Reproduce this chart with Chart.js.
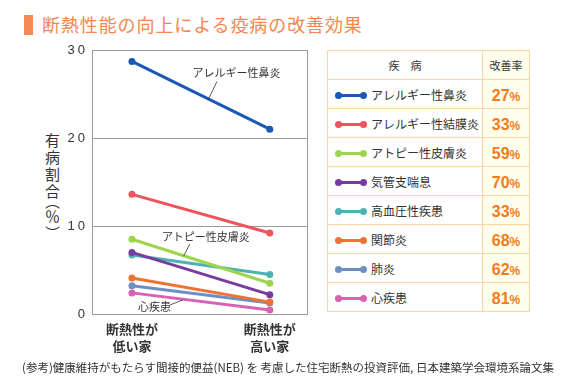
<!DOCTYPE html>
<html>
<head>
<meta charset="utf-8">
<script src="https://cdn.jsdelivr.net/npm/chart.js@4"></script>
<style>
  body { margin: 0; width: 576px; height: 387px; background: #fff; position: relative; overflow: hidden;
         font-family: "Noto Sans CJK JP", sans-serif; color: #333; }
  #title { position: absolute; left: 24px; top: 11px; font-size: 18px; color: #f3874d; white-space: nowrap; letter-spacing: 0.9px; }
  #title .bar { display: inline-block; width: 9px; height: 20px; background: #f58a52; vertical-align: -3px; margin-right: 9px; }
  #ytitle { position: absolute; left: 42px; top: 133px; writing-mode: vertical-rl; font-size: 15px; letter-spacing: 2px; color: #333; }
  #ytitle .p { font-feature-settings: "vhal"; letter-spacing: 0; }
  #wrap { position: absolute; left: 0; top: 0; width: 320px; height: 387px; }
  #legend { position: absolute; left: 327px; top: 50px; width: 203px; border-collapse: collapse; }
  #legend td, #legend th { border: 1.5px solid #fad6a3; height: 28px; padding: 0; font-weight: normal; }
  #legend th { font-size: 11px; }
  #legend td.rate, #legend th.rate { background: #fffdeb; width: 46px; text-align: center; }
  #legend td.name { font-size: 12px; white-space: nowrap; padding-left: 9px; }
  .sw { display: inline-block; position: relative; width: 28px; height: 3px; vertical-align: middle; margin-right: 6px; top: -1px; }
  .sw::before, .sw::after { content: ""; position: absolute; top: -2px; width: 7px; height: 7px; border-radius: 50%; background: inherit; }
  .sw::before { left: -2px; } .sw::after { right: -2px; }
  .num { font-family: "Liberation Sans", Arial, sans-serif; font-weight: bold; color: #f37b1d; font-size: 16px; }
  .num small { font-size: 12px; }
  #note { position: absolute; left: 22px; top: 359px; font-size: 11.5px; color: #333; white-space: nowrap; }
</style>
</head>
<body>
<div id="title"><span class="bar"></span>断熱性能の向上による疫病の改善効果</div>
<div id="ytitle">有病割合<span class="p">（</span>％<span class="p">）</span></div>
<div id="wrap"><canvas id="chart"></canvas></div>
<table id="legend"></table>
<div id="note">(参考)健康維持がもたらす間接的便益(NEB) を 考慮した住宅断熱の投資評価, 日本建築学会環境系論文集</div>

<script>
const categories = ['アレルギー性鼻炎', 'アレルギー性結膜炎', 'アトピー性皮膚炎', '気管支喘息', '高血圧性疾患', '関節炎', '肺炎', '心疾患'];
const lowInsulation = [28.7, 13.6, 8.5, 7.0, 6.7, 4.1, 3.2, 2.4];
const highInsulation = [21.0, 9.2, 3.5, 2.2, 4.5, 1.35, 1.25, 0.45];
const improvement = [27, 33, 59, 70, 33, 68, 62, 81];
const colors = ['#1a58b3', '#ef535b', '#9fd44f', '#7a3b9f', '#4cb2b4', '#f07233', '#6f8fc2', '#d862b4'];
const xLabels = [['断熱性が', '低い家'], ['断熱性が', '高い家']];
const yTicks = [0, 10, 20, 30];

// callouts: text, text anchor (x,y), leader from -> to, in data units
const callouts = [
    { text: 'アレルギー性鼻炎', x: 0.44, y: 27.4, from: [0.616, 26.4], to: [0.551, 24.3] },
    { text: 'アトピー性皮膚炎', x: 0.217, y: 8.75, from: [0.42, 7.95], to: [0.375, 6.6] },
    { text: '心疾患', x: 0.043, y: 0.8, from: [0.275, 1.02], to: [0.37, 1.6] }
];

// legend table
const legend = document.getElementById('legend');
let rows = '<tr><th>疾　病</th><th class="rate">改善率</th></tr>';
categories.forEach((name, i) => {
    rows += `<tr><td class="name"><span class="sw" style="background:${colors[i]}"></span>${name}</td>` +
            `<td class="rate"><span class="num">${improvement[i]}<small>%</small></span></td></tr>`;
});
legend.innerHTML = rows;

const framePlugin = {
    id: 'frame',
    beforeDraw(chart) {
        const ys = chart.scales.y;
        if (!ys._spaced) {
            const orig = ys.drawLabels.bind(ys);
            ys.drawLabels = function (area) {
                const ctx = chart.ctx;
                ctx.save();
                ctx.letterSpacing = '3px';
                orig(area);
                ctx.restore();
            };
            ys._spaced = true;
        }
    },
    beforeDatasetsDraw(chart) {
        const { ctx, chartArea: a } = chart;
        ctx.save();
        ctx.strokeStyle = '#9a9a9a';
        ctx.lineWidth = 1;
        ctx.strokeRect(a.left + 0.5, a.top + 0.5, a.right - a.left, a.bottom - a.top);
        ctx.restore();
    },
    afterDatasetsDraw(chart) {
        const { ctx, scales: { x, y } } = chart;
        ctx.save();
        ctx.font = '11px "Noto Sans CJK JP"';
        ctx.fillStyle = '#333';
        ctx.strokeStyle = '#333';
        ctx.lineWidth = 0.8;
        ctx.textBaseline = 'middle';
        callouts.forEach(c => {
            ctx.fillText(c.text, x.getPixelForValue(c.x), y.getPixelForValue(c.y));
            ctx.beginPath();
            ctx.moveTo(x.getPixelForValue(c.from[0]), y.getPixelForValue(c.from[1]));
            ctx.lineTo(x.getPixelForValue(c.to[0]), y.getPixelForValue(c.to[1]));
            ctx.stroke();
        });
        ctx.restore();
    }
};

new Chart(document.getElementById('chart'), {
    type: 'line',
    data: {
        datasets: categories.map((name, i) => ({
            label: name,
            data: [{ x: 0, y: lowInsulation[i] }, { x: 1, y: highInsulation[i] }],
            borderColor: colors[i],
            backgroundColor: colors[i],
            borderWidth: 3,
            pointRadius: 3.5,
            pointBorderWidth: 0,
            pointBackgroundColor: colors[i]
        }))
    },
    options: {
        responsive: true,
        maintainAspectRatio: false,
        animation: false,
        layout: { padding: { left: 0, top: 50, right: 13, bottom: 0 } },
        plugins: { legend: { display: false }, tooltip: { enabled: false } },
        scales: {
            x: {
                type: 'linear',
                min: -0.29,
                max: 1.27,
                afterBuildTicks: s => { s.ticks = xLabels.map((l, i) => ({ value: i })); },
                afterFit: s => { s.height = 73; },
                grid: { display: false, drawTicks: false },
                border: { display: false },
                ticks: {
                    callback: (v, i) => xLabels[i],
                    color: '#333',
                    padding: 6,
                    maxRotation: 0,
                    font: { family: '"Noto Sans CJK JP"', size: 13, weight: 'bold', lineHeight: 1.35 }
                }
            },
            y: {
                min: 0,
                max: 30,
                afterBuildTicks: s => { s.ticks = yTicks.map(v => ({ value: v })); },
                afterFit: s => { s.width = 92; },
                grid: { color: '#9a9a9a', lineWidth: 1, drawTicks: false },
                border: { display: false },
                ticks: {
                    color: '#333',
                    padding: 4,
                    font: { family: '"Liberation Sans"', size: 13 }
                }
            }
        }
    },
    plugins: [framePlugin]
});
</script>
</body>
</html>
